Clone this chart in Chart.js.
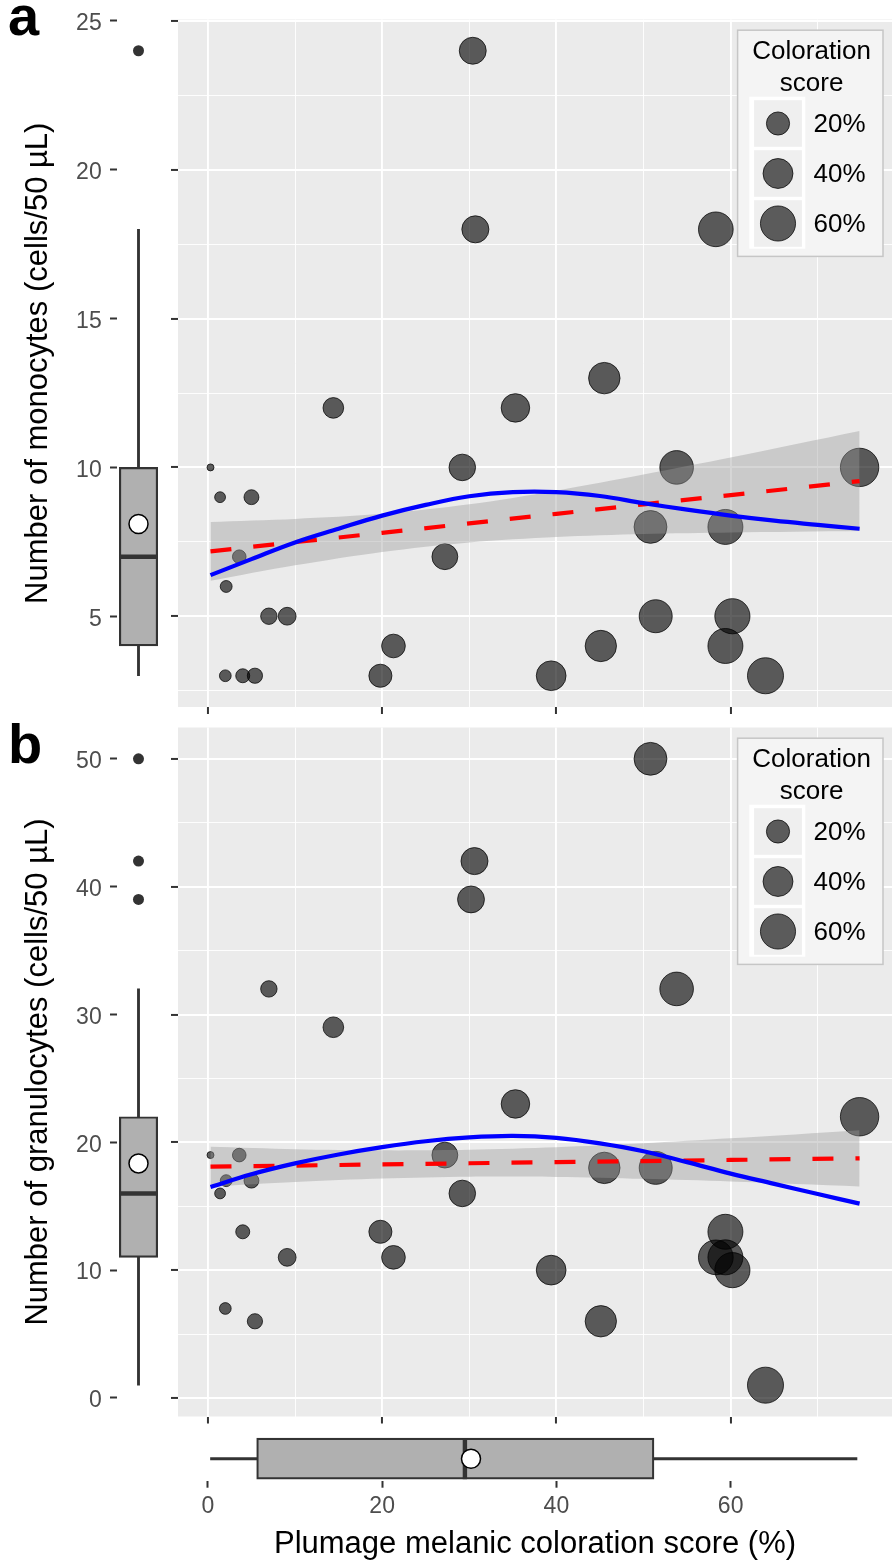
<!DOCTYPE html>
<html>
<head>
<meta charset="utf-8">
<title>Plumage melanic coloration vs leukocytes</title>
<script src="https://cdn.jsdelivr.net/npm/chart.js@4.4.1/dist/chart.umd.min.js"></script>
<style>
  html, body { margin:0; padding:0; background:#ffffff; }
  #fig { position:relative; width:896px; height:1567px; overflow:hidden; background:#fff; }
  #fig canvas { position:absolute; }
  .tag { position:absolute; left:8px; font-family:"Liberation Sans", Arial, sans-serif; font-weight:bold; font-size:56px; line-height:56px; color:#000; }
</style>
</head>
<body>
<div id="fig">
  <div class="tag" style="top:-12px">a</div>
  <div class="tag" style="top:716px">b</div>
  <canvas id="boxA" width="171" height="716" style="left:0;top:0"></canvas>
  <canvas id="mainA" width="725" height="716" style="left:171px;top:0"></canvas>
  <canvas id="boxB" width="171" height="710" style="left:0;top:716px"></canvas>
  <canvas id="mainB" width="725" height="710" style="left:171px;top:716px"></canvas>
  <canvas id="boxX" width="725" height="141" style="left:171px;top:1426px"></canvas>
</div>
<script>
// ---------------- data ----------------
const xRange = [-3.43, 78.52];
const xMajor = [0, 20, 40, 60];
const xMinor = [10, 30, 50, 70];

const monoRange = [1.95, 25.05];
const monoMajor = [5, 10, 15, 20, 25];
const monoMinor = [2.5, 7.5, 12.5, 17.5, 22.5];
const granRange = [-1.45, 52.45];
const granMajor = [0, 10, 20, 30, 40, 50];
const granMinor = [5, 15, 25, 35, 45];

const monoScore = [0.3,1.4,5.0,3.6,2.1,7.0,9.1,2.0,4.0,5.4,14.4,19.8,21.3,27.2,29.2,30.4,30.7,35.3,39.4,45.1,45.5,50.8,51.4,53.8,58.3,59.4,59.4,60.2,64.0,74.8];
const monocytes = [10,9,9,7,6,5,5,3,3,3,12,3,4,7,10,24,18,12,3,4,13,8,5,10,18,4,8,5,3,10];
const granScore = [0.3,1.4,2.1,3.6,5.0,4.0,9.1,2.0,5.4,7.0,14.4,19.8,21.3,27.2,29.2,30.6,30.2,35.3,39.4,45.1,45.5,50.8,51.4,53.8,58.3,59.4,59.4,60.2,64.0,74.8];
const granulocytes = [19,16,17,19,17,13,11,7,6,32,29,13,11,19,16,42,39,23,10,6,18,50,18,32,11,13,11,10,1,22];

const fitX = [0.3,10,20,30,40,50,60,74.8];
const monoLm   = [7.18,7.49,7.80,8.12,8.44,8.76,9.07,9.54];
const monoLmHi = [8.17,8.27,8.44,8.76,9.22,9.76,10.33,11.22];
const monoLmLo = [6.19,6.71,7.16,7.48,7.66,7.76,7.81,7.86];
const granLm   = [18.10,18.18,18.27,18.36,18.45,18.53,18.62,18.75];
const granLmHi = [19.65,19.46,19.37,19.41,19.61,19.92,20.31,20.95];
const granLmLo = [16.55,16.90,17.17,17.31,17.29,17.14,16.93,16.55];

const loessX = [0.3,5,10,15,20,25,30,35,40,45,50,55,60,65,70,74.8];
const monoLoess = [6.38,6.92,7.48,7.94,8.38,8.74,9.03,9.17,9.17,9.04,8.8,8.58,8.38,8.21,8.07,7.94];
const granLoess = [16.5,17.5,18.35,19.05,19.62,20.08,20.38,20.5,20.35,19.92,19.3,18.45,17.55,16.75,15.95,15.2];

// boxplots: [lower whisker, Q1, median, Q3, upper whisker]
const monoBox = [3,4,7,10,18];   const monoMean = [8.1];   const monoOut = [24];
const granBox = [1,11,16,22,32]; const granMean = [18.35]; const granOut = [39,42,50];
const scoreBox = [0.3,5.6,29.5,51.2,74.5]; const scoreMean = [30.2];

const legendValues = [20,40,60];
const legendLabels = ['20%','40%','60%'];
const legendTitle = ['Coloration','score'];
const monoTitle = 'Number of monocytes (cells/50 µL)';
const granTitle = 'Number of granulocytes (cells/50 µL)';
const xTitle = 'Plumage melanic coloration score (%)';

// ---------------- styling / helpers ----------------
const FONT = '"Liberation Sans", Arial, sans-serif';
Chart.defaults.font.family = FONT;
Chart.defaults.animation = false;

const POINT_FILL = 'rgba(0,0,0,0.62)';
const POINT_LINE = 'rgba(0,0,0,0.72)';
const SIZE_PX = [3.5, 19.2];
function sizeOf(v, lo, hi) {
  const t = Math.max(0, Math.min(1, (v - lo) / (hi - lo)));
  return SIZE_PX[0] + (SIZE_PX[1] - SIZE_PX[0]) * Math.sqrt(t);
}
function tickList(major, minor) {
  return major.map(v => ({value: v})).concat(minor.map(v => ({value: v, minor: true})))
    .sort((a, b) => a.value - b.value);
}
const isMinor = c => !!(c.tick && c.tick.minor);
function fixAxis(s, key, size) {
  s[key] = size;
  s.paddingTop = 0; s.paddingBottom = 0; s.paddingLeft = 0; s.paddingRight = 0;
}

function gridAxis(range, major, minor, fitKey, fitSize) {
  return {
    type: 'linear', min: range[0], max: range[1],
    afterBuildTicks: s => { s.ticks = tickList(major, minor); },
    afterFit: s => fixAxis(s, fitKey, fitSize),
    ticks: { display: false },
    grid: {
      color: '#ffffff',
      lineWidth: c => isMinor(c) ? 0.9 : 1.9,
      drawTicks: true, tickLength: 7, tickWidth: 2,
      tickColor: c => isMinor(c) ? 'rgba(0,0,0,0)' : '#333333'
    },
    border: { display: false }
  };
}

const panelBg = {
  id: 'panelBg',
  beforeDraw(chart) {
    const a = chart.chartArea, c = chart.ctx;
    c.save(); c.fillStyle = '#ebebeb';
    c.fillRect(a.left, a.top, a.right - a.left, a.bottom - a.top);
    c.restore();
  }
};

const bubbleLegend = {
  id: 'bubbleLegend',
  afterDraw(chart, args, opts) {
    const a = chart.chartArea, c = chart.ctx;
    const W = 145.4, H = 226.2, L = a.right - 9 - W, T = a.top + 10.7;
    c.save();
    c.fillStyle = '#f4f4f4'; c.fillRect(L, T, W, H);
    c.strokeStyle = '#c6c6c6'; c.lineWidth = 1.5; c.strokeRect(L, T, W, H);
    c.fillStyle = '#000'; c.font = '26px ' + FONT; c.textAlign = 'center'; c.textBaseline = 'middle';
    legendTitle.forEach((t, i) => c.fillText(t, L + 74, T + 21.3 + i * 32));
    c.fillStyle = '#ffffff'; c.fillRect(L + 11.7, T + 66.5, 56, 152);
    legendValues.forEach((v, i) => {
      const ky = T + 70 + i * 50, cx = L + 40.4, cy = ky + 23.3;
      c.fillStyle = '#efefef'; c.fillRect(L + 16.5, ky, 47.8, 46.6);
      c.beginPath(); c.arc(cx, cy, sizeOf(v, opts.lo, opts.hi), 0, Math.PI * 2);
      c.fillStyle = POINT_FILL; c.fill();
      c.lineWidth = 1; c.strokeStyle = POINT_LINE; c.stroke();
      c.fillStyle = '#000'; c.textAlign = 'left'; c.fillText(legendLabels[i], L + 76, cy + 1);
    });
    c.restore();
  }
};

const medianPlugin = {
  id: 'median',
  afterDatasetDraw(chart, args, opts) {
    if (args.index !== opts.index) return;
    const el = args.meta.data[0]; if (!el) return;
    const p = el.getProps(['x', 'y', 'base', 'width', 'height'], true);
    const c = chart.ctx;
    c.save(); c.strokeStyle = '#333333'; c.lineWidth = opts.width; c.beginPath();
    if (opts.horizontal) {
      const x = chart.scales.x.getPixelForValue(opts.value);
      c.moveTo(x, p.y - p.height / 2); c.lineTo(x, p.y + p.height / 2);
    } else {
      const y = chart.scales.y.getPixelForValue(opts.value);
      c.moveTo(p.x - p.width / 2, y); c.lineTo(p.x + p.width / 2, y);
    }
    c.stroke(); c.restore();
  }
};

function mainChart(id, xs, ys, yRange, yMajor, yMinor, lm, lmHi, lmLo, loess, pad, xAxisH) {
  const lo = Math.min(...xs), hi = Math.max(...xs);
  const pts = xs.map((x, i) => ({x: x, y: ys[i]}));
  const rad = c => sizeOf(c.raw ? c.raw.x : lo, lo, hi);
  return new Chart(document.getElementById(id), {
    type: 'scatter',
    data: { datasets: [
      { type: 'scatter', data: pts, order: 5, pointRadius: rad, pointHoverRadius: rad,
        pointBackgroundColor: POINT_FILL, pointBorderColor: POINT_LINE, pointBorderWidth: 1 },
      { type: 'line', data: fitX.map((x, i) => ({x: x, y: lmHi[i]})), order: 4, borderWidth: 0,
        borderColor: 'rgba(0,0,0,0)', pointRadius: 0, fill: false, tension: 0.3 },
      { type: 'line', data: fitX.map((x, i) => ({x: x, y: lmLo[i]})), order: 4, borderWidth: 0,
        borderColor: 'rgba(0,0,0,0)', pointRadius: 0, fill: '-1', backgroundColor: 'rgba(153,153,153,0.4)',
        tension: 0.3 },
      { type: 'line', data: fitX.map((x, i) => ({x: x, y: lm[i]})), order: 2, borderColor: '#ff0000',
        borderWidth: 4.2, borderDash: [21, 22], pointRadius: 0, fill: false, borderCapStyle: 'butt' },
      { type: 'line', data: loessX.map((x, i) => ({x: x, y: loess[i]})), order: 1, borderColor: '#0000ff',
        borderWidth: 4.2, pointRadius: 0, fill: false, tension: 0.4 }
    ]},
    options: {
      responsive: false, animation: false, events: [],
      layout: { padding: pad, autoPadding: false },
      plugins: { legend: {display: false}, tooltip: {enabled: false}, bubbleLegend: {lo: lo, hi: hi} },
      scales: {
        x: gridAxis(xRange, xMajor, xMinor, 'height', xAxisH),
        y: gridAxis(yRange, yMajor, yMinor, 'width', 7)
      }
    },
    plugins: [panelBg, bubbleLegend]
  });
}

function boxChart(id, stats, mean, outliers, yRange, yMajor, title, pad) {
  return new Chart(document.getElementById(id), {
    type: 'bar',
    data: { datasets: [
      { type: 'bar', data: [{x: 0, y: [stats[0], stats[1]]}, {x: 0, y: [stats[3], stats[4]]}],
        backgroundColor: '#333333', borderWidth: 0, barThickness: 2.2, grouped: false, order: 3 },
      { type: 'bar', data: [{x: 0, y: [stats[1], stats[3]]}], backgroundColor: '#b0b0b0',
        borderColor: '#333333', borderWidth: 2.2, borderSkipped: false, barThickness: 38.4, grouped: false, order: 2 },
      { type: 'scatter', data: outliers.map(v => ({x: 0, y: v})), pointRadius: 5.5,
        pointBackgroundColor: '#333333', pointBorderWidth: 0, order: 1 },
      { type: 'scatter', data: mean.map(v => ({x: 0, y: v})), pointRadius: 9.5,
        pointBackgroundColor: '#ffffff', pointBorderColor: '#000000', pointBorderWidth: 1.5, order: 0 }
    ]},
    options: {
      responsive: false, animation: false, events: [],
      layout: { padding: pad, autoPadding: false },
      plugins: { legend: {display: false}, tooltip: {enabled: false},
                 median: {value: stats[2], index: 1, horizontal: false, width: 4.4} },
      scales: {
        x: { type: 'linear', min: -1, max: 1, display: false, offset: false, grid: {offset: false} },
        y: { type: 'linear', min: yRange[0], max: yRange[1],
             afterBuildTicks: s => { s.ticks = yMajor.map(v => ({value: v})); },
             afterFit: s => fixAxis(s, 'width', 117),
             ticks: { color: '#4d4d4d', font: {size: 23}, padding: 8.3, labelOffset: 3, autoSkip: false,
                      callback: v => String(v) },
             grid: { drawOnChartArea: false, drawTicks: true, tickLength: 7, tickWidth: 2, tickColor: '#333333' },
             border: { display: false },
             title: { display: true, text: title, color: '#000000', font: {size: 31}, padding: {top: 20.1, bottom: 0} }
        }
      }
    },
    plugins: [medianPlugin]
  });
}

boxChart('boxA', monoBox, monoMean, monoOut, monoRange, monoMajor, monoTitle, {top: 19.5, bottom: 9, left: 0, right: 11});
mainChart('mainA', monoScore, monocytes, monoRange, monoMajor, monoMinor, monoLm, monoLmHi, monoLmLo, monoLoess,
          {top: 19.5, right: 4, left: 0, bottom: 0}, 9);
boxChart('boxB', granBox, granMean, granOut, granRange, granMajor, granTitle, {top: 11.5, bottom: 9.5, left: 0, right: 11});
mainChart('mainB', granScore, granulocytes, granRange, granMajor, granMinor, granLm, granLmHi, granLmLo, granLoess,
          {top: 11.5, right: 4, left: 0, bottom: 0}, 9.5);

new Chart(document.getElementById('boxX'), {
  type: 'bar',
  data: { datasets: [
    { data: [{y: 0, x: [scoreBox[0], scoreBox[1]]}, {y: 0, x: [scoreBox[3], scoreBox[4]]}],
      backgroundColor: '#333333', borderWidth: 0, barThickness: 2.4, grouped: false, order: 3 },
    { data: [{y: 0, x: [scoreBox[1], scoreBox[3]]}], backgroundColor: '#b0b0b0', borderColor: '#333333',
      borderWidth: 2.2, borderSkipped: false, barThickness: 41, grouped: false, order: 2 },
    { type: 'scatter', data: scoreMean.map(v => ({x: v, y: 0})), pointRadius: 9.5,
      pointBackgroundColor: '#ffffff', pointBorderColor: '#000000', pointBorderWidth: 1.5, order: 0 }
  ]},
  options: {
    indexAxis: 'y', responsive: false, animation: false, events: [],
    layout: { padding: {left: 7, right: 4, top: 10.7, bottom: 0}, autoPadding: false },
    plugins: { legend: {display: false}, tooltip: {enabled: false},
               median: {value: scoreBox[2], index: 1, horizontal: true, width: 4.4} },
    scales: {
      y: { type: 'linear', min: -1, max: 1, display: false, offset: false, grid: {offset: false} },
      x: { type: 'linear', min: xRange[0], max: xRange[1],
           afterBuildTicks: s => { s.ticks = xMajor.map(v => ({value: v})); },
           afterFit: s => fixAxis(s, 'height', 86.3),
           ticks: { color: '#4d4d4d', font: {size: 23}, padding: 4.8, autoSkip: false, maxRotation: 0,
                    callback: v => String(v) },
           grid: { drawOnChartArea: false, drawTicks: true, tickLength: 7, tickWidth: 2, tickColor: '#333333' },
           border: { display: false },
           title: { display: true, text: xTitle, color: '#000000', font: {size: 31}, padding: {top: 0, bottom: 3.9} }
      }
    }
  },
  plugins: [medianPlugin]
});
</script>
</body>
</html>
